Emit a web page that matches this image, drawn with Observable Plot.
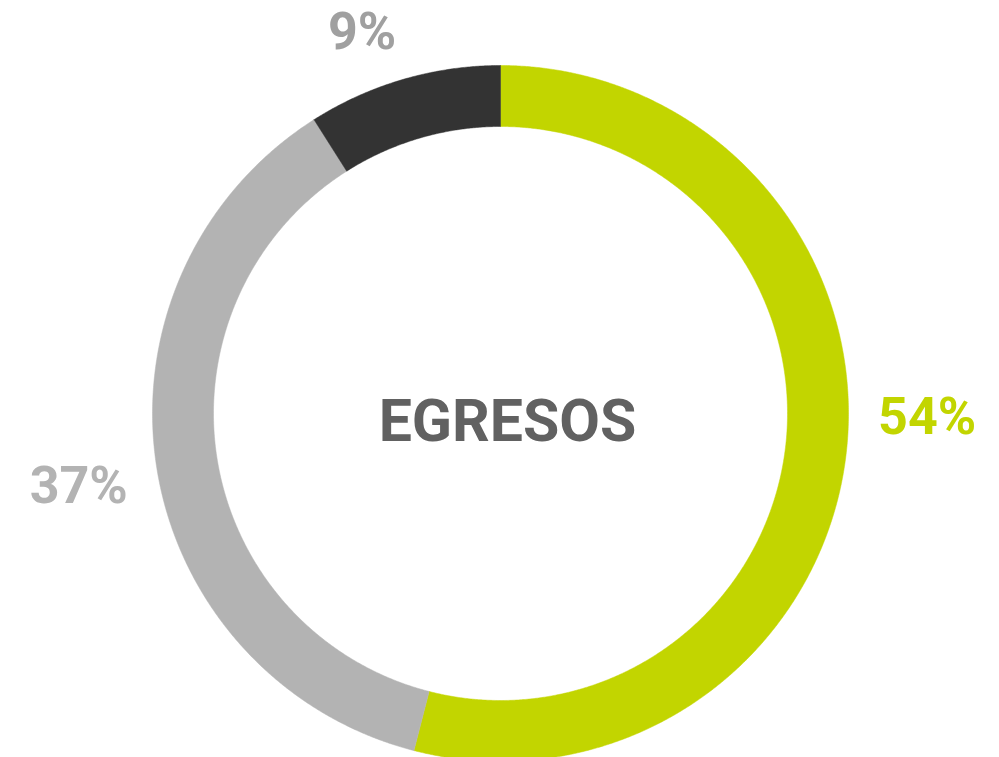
<!DOCTYPE html>
<html>
<head>
<meta charset="utf-8">
<script src="https://cdn.jsdelivr.net/npm/d3@7"></script>
<script src="https://cdn.jsdelivr.net/npm/@observablehq/plot@0.6"></script>
<style>
  html, body { margin: 0; padding: 0; background: #ffffff; }
  #chart { width: 999px; height: 757px; overflow: hidden; }
</style>
</head>
<body>
<div id="chart"></div>
<script>
// ---- Data ----
const categories = ["Segmento A", "Segmento B", "Segmento C"];
const values = [54, 37, 9];
const labels = ["54%", "37%", "9%"];
const colors = ["#c2d500", "#b3b3b3", "#333333"];
const labelColors = ["#c2d500", "#b3b3b3", "#a0a0a0"];
const centerTitle = "EGRESOS";

// ---- Build arcs via d3.pie (unit circle, starting at 12 o'clock, clockwise) ----
const outerR = 1, innerR = 287 / 348;
const pie = d3.pie().sort(null).value(d => d.value);
const slices = pie(categories.map((c, i) => ({category: c, value: values[i], label: labels[i]})));

const ringPoints = [];
slices.forEach(s => {
  const n = Math.max(2, Math.ceil((s.endAngle - s.startAngle) / 0.005));
  const pts = [];
  for (let k = 0; k <= n; k++) {
    const a = s.startAngle + (s.endAngle - s.startAngle) * k / n;
    pts.push({x: outerR * Math.sin(a), y: outerR * Math.cos(a)});
  }
  for (let k = n; k >= 0; k--) {
    const a = s.startAngle + (s.endAngle - s.startAngle) * k / n;
    pts.push({x: innerR * Math.sin(a), y: innerR * Math.cos(a)});
  }
  pts.push(pts[0]);
  pts.forEach(p => ringPoints.push({...p, category: s.data.category}));
});

// label anchors at mid angle
const labelR = 1.23;
const labelPts = slices.map((s, i) => {
  const a = (s.startAngle + s.endAngle) / 2;
  return {x: labelR * Math.sin(a), y: labelR * Math.cos(a), label: s.data.label, i};
});
const offsets = [[2, -50], [1, 6], [-19, 30]];

const W = 999, H = 757, cx = 500, cy = 413, R = 348;

const chart = Plot.plot({
  width: W,
  height: H,
  margin: 0,
  x: {domain: [-cx / R, (W - cx) / R], axis: null},
  y: {domain: [-(H - cy) / R, cy / R], axis: null},
  color: {domain: categories, range: colors, legend: false},
  style: {background: "#ffffff"},
  marks: [
    Plot.line(ringPoints, {x: "x", y: "y", z: "category", fill: "category", stroke: "category", strokeWidth: 0.5, curve: "linear"}),
    ...labelPts.map(p => Plot.text([p], {
      x: "x", y: "y", text: "label",
      fill: labelColors[p.i],
      fontSize: 52, fontWeight: "bold", fontFamily: "Roboto, 'DejaVu Sans', sans-serif",
      dx: offsets[p.i][0], dy: offsets[p.i][1]
    })),
    Plot.text([centerTitle], {
      x: () => 0, y: () => 0, text: d => d,
      fill: "#616161", fontSize: 59, fontWeight: "bold",
      fontFamily: "Roboto, 'DejaVu Sans', sans-serif",
      dx: 7, dy: 9
    })
  ]
});
document.getElementById("chart").appendChild(chart);
</script>
</body>
</html>
